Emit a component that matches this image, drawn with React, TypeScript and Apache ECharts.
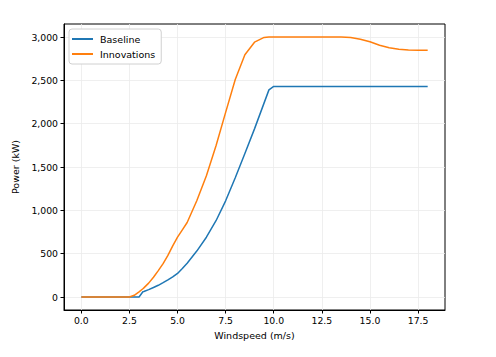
import React, { useEffect, useRef } from "react";
import * as echarts from "echarts";

const windspeed = [0, 0.5, 1, 1.5, 2, 2.5, 2.75, 3, 3.2, 3.25, 3.5, 3.75, 4, 4.25, 4.5, 4.75, 5, 5.25, 5.5, 6, 6.5, 7, 7.5, 8, 8.5, 9, 9.5, 9.75, 10, 10.5, 11, 11.5, 12, 12.5, 13, 13.5, 14, 14.5, 15, 15.5, 16, 16.5, 17, 17.5, 18];
const baseline = [0, 0, 0, 0, 0, 0, 0, 0, 60, 63, 85, 110, 135, 165, 197, 232, 272, 328, 390, 530, 690, 880, 1110, 1375, 1655, 1940, 2240, 2390, 2430, 2430, 2430, 2430, 2430, 2430, 2430, 2430, 2430, 2430, 2430, 2430, 2430, 2430, 2430, 2430, 2430];
const innovations = [0, 0, 0, 0, 0, 0, 20, 60, 95, 105, 160, 228, 305, 385, 480, 590, 690, 775, 860, 1110, 1400, 1745, 2130, 2510, 2795, 2940, 2995, 3000, 3000, 3000, 3000, 3000, 3000, 3000, 3000, 3000, 2995, 2975, 2945, 2905, 2875, 2858, 2850, 2848, 2848];
const xTicks = [0, 2.5, 5, 7.5, 10, 12.5, 15, 17.5];
const yTicks = [0, 500, 1000, 1500, 2000, 2500, 3000];

const font = "DejaVu Sans";

export default function App() {
  const ref = useRef<HTMLDivElement>(null);
  useEffect(() => {
    document.body.style.margin = "0";
    const chart = echarts.init(ref.current!, null, { renderer: "svg" });
    const axisCommon = {
      axisLine: { show: true, onZero: false, lineStyle: { color: "#000", width: 1 } },
      axisTick: { show: true, inside: false, length: 3.5, lineStyle: { color: "#000" } },
      splitLine: { show: true, lineStyle: { color: "#ebebeb", width: 0.8 } },
    };
    chart.setOption({
      animation: false,
      grid: {
        left: 64, right: 51, top: 24, bottom: 47,
        show: true, borderColor: "#000", borderWidth: 1, backgroundColor: "transparent",
      },
      legend: {
        orient: "vertical",
        left: 69, top: 29,
        backgroundColor: "#fff",
        borderColor: "#d0d0d0",
        borderWidth: 1,
        borderRadius: 3,
        padding: [5, 6, 5, 3],
        itemGap: 5,
        itemWidth: 21,
        itemHeight: 2,
        icon: "rect",
        textStyle: { fontFamily: font, fontSize: 9.5, color: "#000", padding: [0, 0, 0, 2] },
        data: ["Baseline", "Innovations"],
      },
      xAxis: {
        type: "value",
        min: -0.9,
        max: 18.9,
        name: "Windspeed (m/s)",
        nameLocation: "middle",
        nameGap: 20,
        nameTextStyle: { fontFamily: font, fontSize: 9.5, color: "#000" },
        ...axisCommon,
        axisTick: { ...axisCommon.axisTick, customValues: xTicks },
        axisLabel: {
          customValues: xTicks,
          fontFamily: font, fontSize: 9.3, color: "#000", margin: 6,
          formatter: (v: number) => v.toFixed(1),
        },
      },
      yAxis: {
        type: "value",
        min: -150,
        max: 3150,
        name: "Power (kW)",
        nameLocation: "middle",
        nameGap: 36,
        nameTextStyle: { fontFamily: font, fontSize: 9.5, color: "#000" },
        ...axisCommon,
        axisTick: { ...axisCommon.axisTick, customValues: yTicks },
        axisLabel: {
          customValues: yTicks,
          fontFamily: font, fontSize: 9.3, color: "#000", margin: 6,
          formatter: (v: number) => v.toLocaleString("en-US"),
        },
      },
      series: [
        {
          name: "Baseline",
          type: "line",
          showSymbol: false,
          symbol: "none",
          data: windspeed.map((x, i) => [x, baseline[i]]),
          lineStyle: { color: "#1f77b4", width: 1.5 },
          itemStyle: { color: "#1f77b4" },
        },
        {
          name: "Innovations",
          type: "line",
          showSymbol: false,
          symbol: "none",
          data: windspeed.map((x, i) => [x, innovations[i]]),
          lineStyle: { color: "#ff7f0e", width: 1.5 },
          itemStyle: { color: "#ff7f0e" },
        },
      ],
    });
    return () => chart.dispose();
  }, []);
  return <div ref={ref} style={{ width: 496, height: 357 }} />;
}
